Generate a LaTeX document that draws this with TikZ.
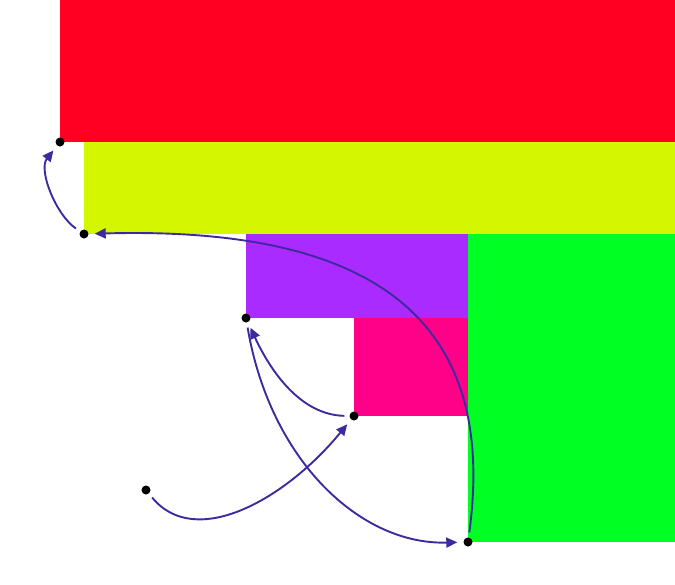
\documentclass[tikz,border=0pt]{standalone}
\usetikzlibrary{arrows.meta}
\definecolor{cred}{RGB}{255,0,34}
\definecolor{cyel}{RGB}{212,247,0}
\definecolor{cpur}{RGB}{170,43,255}
\definecolor{cgrn}{RGB}{0,255,34}
\definecolor{cmag}{RGB}{255,0,136}
\definecolor{carr}{RGB}{62,42,158}
\tikzset{
  dot/.style={circle,fill=black,inner sep=0pt,minimum size=9pt},
  link/.style={draw=carr,line width=1.9pt,-{Triangle[length=11pt,width=10pt]},shorten <=5pt,shorten >=6pt},
}
\begin{document}
\begin{tikzpicture}[x=1pt,y=-1pt]
\useasboundingbox (0,0) rectangle (675,584);
\fill[cred] (60,0) rectangle (675,142);
\fill[cyel] (84,142) rectangle (675,234);
\fill[cpur] (246,234) rectangle (468,318);
\fill[cgrn] (468,234) rectangle (675,542);
\fill[cmag] (354,318) rectangle (468,416);
\node[dot] (d1) at (60,142) {};
\node[dot] (d2) at (84,234) {};
\node[dot] (d3) at (246,318) {};
\node[dot] (d4) at (354,416) {};
\node[dot] (d5) at (146,490) {};
\node[dot] (d6) at (468,542) {};
\draw[link] (d2) .. controls (56,215) and (38,170) .. (d1);
\draw[link] (d6) .. controls (498,320) and (375,226) .. (d2);
\draw[link] (d4) .. controls (300,415) and (270,370) .. (d3);
\draw[link] (d3) .. controls (270,460) and (360,545) .. (d6);
\draw[link] (d5) .. controls (195,550) and (285,500) .. (d4);
\end{tikzpicture}
\end{document}
